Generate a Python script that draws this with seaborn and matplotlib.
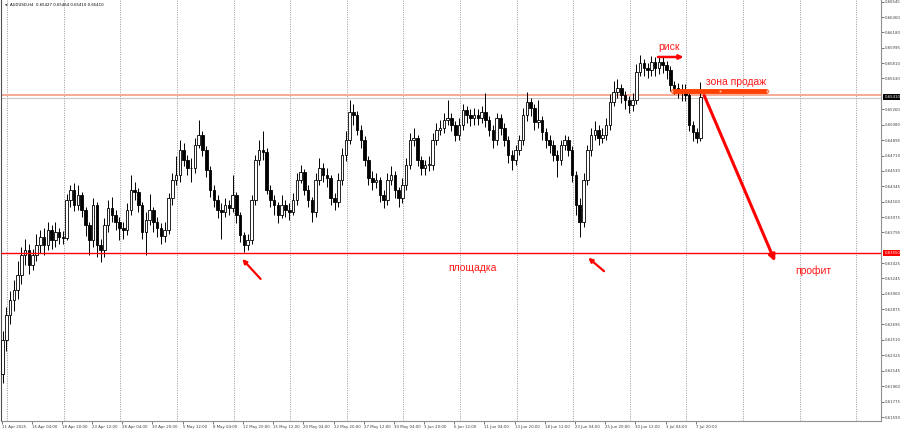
import numpy as np
import pandas as pd
import matplotlib
matplotlib.use("Agg")
import matplotlib.pyplot as plt
import matplotlib.transforms as mtransforms
import seaborn as sns

# AUDUSD H4 chart, candles (one candle = two H4 bars)
first_open = 0.6210
closes = [0.6251, 0.6281, 0.6299, 0.6311, 0.6329, 0.6352, 0.6358, 0.6341, 0.6352, 0.6364,
          0.6374, 0.6364, 0.6382, 0.6370, 0.6380, 0.6374, 0.6373, 0.6418, 0.6430, 0.6412,
          0.6424, 0.6406, 0.6388, 0.6370, 0.6412, 0.6364, 0.6358, 0.6388, 0.6409, 0.6400,
          0.6392, 0.6385, 0.6382, 0.6406, 0.6430, 0.6428, 0.6412, 0.6380, 0.6394, 0.6406,
          0.6392, 0.6385, 0.6375, 0.6382, 0.6420, 0.6442, 0.6448, 0.6478, 0.6466, 0.6456,
          0.6456, 0.6484, 0.6496, 0.6478, 0.6454, 0.6430, 0.6418, 0.6406, 0.6404, 0.6412,
          0.6409, 0.6424, 0.6400, 0.6376, 0.6364, 0.6370, 0.6418, 0.6466, 0.6478, 0.6475,
          0.6430, 0.6418, 0.6412, 0.6400, 0.6412, 0.6406, 0.6404, 0.6418, 0.6442, 0.6451,
          0.6430, 0.6418, 0.6404, 0.6442, 0.6456, 0.6448, 0.6444, 0.6420, 0.6416, 0.6442,
          0.6472, 0.6490, 0.6523, 0.6519, 0.6502, 0.6490, 0.6466, 0.6444, 0.6440, 0.6442,
          0.6424, 0.6418, 0.6442, 0.6448, 0.6430, 0.6420, 0.6436, 0.6460, 0.6490, 0.6492,
          0.6466, 0.6456, 0.6460, 0.6460, 0.6490, 0.6502, 0.6504, 0.6513, 0.6516, 0.6508,
          0.6496, 0.6508, 0.6525, 0.6519, 0.6516, 0.6519, 0.6516, 0.6523, 0.6513, 0.6502,
          0.6490, 0.6516, 0.6504, 0.6490, 0.6472, 0.6466, 0.6478, 0.6490, 0.6519, 0.6535,
          0.6528, 0.6511, 0.6513, 0.6499, 0.6490, 0.6484, 0.6472, 0.6466, 0.6484, 0.6490,
          0.6478, 0.6448, 0.6412, 0.6392, 0.6442, 0.6478, 0.6496, 0.6502, 0.6492, 0.6496,
          0.6508, 0.6535, 0.6547, 0.6552, 0.6543, 0.6537, 0.6531, 0.6537, 0.6571, 0.6581,
          0.6575, 0.6573, 0.6583, 0.6575, 0.6583, 0.6579, 0.6573, 0.6555, 0.6552, 0.6549,
          0.6549, 0.6543, 0.6508, 0.6499, 0.6492, 0.6541]
highs = [0.6262, 0.6290, 0.6310, 0.6322, 0.6345, 0.6362, 0.6372, 0.6365, 0.6360, 0.6378,
         0.6382, 0.6385, 0.6392, 0.6388, 0.6392, 0.6384, 0.6381, 0.6425, 0.6436, 0.6438,
         0.6436, 0.6428, 0.6410, 0.6392, 0.6420, 0.6416, 0.6372, 0.6396, 0.6418, 0.6422,
         0.6406, 0.6398, 0.6392, 0.6414, 0.6448, 0.6440, 0.6432, 0.6415, 0.6404, 0.6425,
         0.6410, 0.6398, 0.6390, 0.6392, 0.6426, 0.6450, 0.6470, 0.6490, 0.6486, 0.6472,
         0.6468, 0.6492, 0.6514, 0.6500, 0.6482, 0.6458, 0.6436, 0.6424, 0.6414, 0.6420,
         0.6418, 0.6448, 0.6428, 0.6404, 0.6380, 0.6378, 0.6424, 0.6472, 0.6490, 0.6500,
         0.6480, 0.6436, 0.6424, 0.6416, 0.6424, 0.6418, 0.6414, 0.6426, 0.6450, 0.6460,
         0.6455, 0.6436, 0.6422, 0.6450, 0.6468, 0.6462, 0.6456, 0.6448, 0.6426, 0.6450,
         0.6480, 0.6500, 0.6537, 0.6532, 0.6524, 0.6508, 0.6494, 0.6470, 0.6452, 0.6450,
         0.6446, 0.6430, 0.6450, 0.6458, 0.6452, 0.6434, 0.6444, 0.6468, 0.6498, 0.6504,
         0.6496, 0.6470, 0.6466, 0.6470, 0.6498, 0.6510, 0.6514, 0.6522, 0.6537, 0.6522,
         0.6512, 0.6516, 0.6532, 0.6530, 0.6526, 0.6528, 0.6526, 0.6530, 0.6546, 0.6518,
         0.6508, 0.6522, 0.6520, 0.6510, 0.6494, 0.6478, 0.6484, 0.6496, 0.6528, 0.6547,
         0.6540, 0.6532, 0.6537, 0.6518, 0.6504, 0.6496, 0.6490, 0.6478, 0.6490, 0.6496,
         0.6494, 0.6482, 0.6452, 0.6420, 0.6450, 0.6484, 0.6504, 0.6512, 0.6508, 0.6504,
         0.6516, 0.6544, 0.6560, 0.6562, 0.6556, 0.6548, 0.6542, 0.6546, 0.6580, 0.6591,
         0.6586, 0.6582, 0.6590, 0.6588, 0.6589, 0.6588, 0.6584, 0.6578, 0.6560, 0.6558,
         0.6556, 0.6556, 0.6548, 0.6512, 0.6504, 0.6559]
lows = [0.6200, 0.6238, 0.6270, 0.6285, 0.6300, 0.6318, 0.6340, 0.6330, 0.6334, 0.6345,
        0.6355, 0.6352, 0.6358, 0.6360, 0.6362, 0.6366, 0.6366, 0.6370, 0.6410, 0.6405,
        0.6406, 0.6398, 0.6375, 0.6352, 0.6362, 0.6350, 0.6344, 0.6350, 0.6380, 0.6392,
        0.6382, 0.6370, 0.6372, 0.6376, 0.6400, 0.6418, 0.6404, 0.6372, 0.6352, 0.6388,
        0.6380, 0.6374, 0.6365, 0.6368, 0.6378, 0.6412, 0.6436, 0.6440, 0.6458, 0.6448,
        0.6440, 0.6450, 0.6480, 0.6470, 0.6446, 0.6422, 0.6410, 0.6396, 0.6372, 0.6398,
        0.6400, 0.6404, 0.6390, 0.6368, 0.6356, 0.6358, 0.6366, 0.6412, 0.6460, 0.6466,
        0.6425, 0.6410, 0.6400, 0.6390, 0.6396, 0.6398, 0.6394, 0.6400, 0.6412, 0.6438,
        0.6424, 0.6410, 0.6392, 0.6398, 0.6436, 0.6440, 0.6434, 0.6412, 0.6406, 0.6410,
        0.6436, 0.6465, 0.6485, 0.6508, 0.6495, 0.6480, 0.6458, 0.6436, 0.6430, 0.6432,
        0.6416, 0.6408, 0.6412, 0.6436, 0.6420, 0.6410, 0.6414, 0.6430, 0.6455, 0.6482,
        0.6458, 0.6448, 0.6448, 0.6452, 0.6454, 0.6484, 0.6495, 0.6498, 0.6508, 0.6500,
        0.6488, 0.6490, 0.6502, 0.6510, 0.6506, 0.6508, 0.6508, 0.6510, 0.6505, 0.6494,
        0.6480, 0.6484, 0.6496, 0.6482, 0.6462, 0.6454, 0.6460, 0.6472, 0.6484, 0.6512,
        0.6518, 0.6502, 0.6504, 0.6490, 0.6480, 0.6474, 0.6464, 0.6445, 0.6460, 0.6478,
        0.6470, 0.6440, 0.6400, 0.6374, 0.6386, 0.6436, 0.6470, 0.6490, 0.6484, 0.6486,
        0.6490, 0.6502, 0.6530, 0.6540, 0.6534, 0.6526, 0.6522, 0.6524, 0.6532, 0.6566,
        0.6566, 0.6564, 0.6566, 0.6566, 0.6568, 0.6570, 0.6562, 0.6548, 0.6545, 0.6540,
        0.6536, 0.6536, 0.6500, 0.6488, 0.6486, 0.6488]

time_labels = ["11 Apr 2025", "16 Apr 04:00", "18 Apr 20:00", "23 Apr 12:00", "28 Apr 04:00",
               "30 Apr 20:00", "5 May 12:00", "8 May 04:00", "12 May 20:00", "15 May 12:00",
               "20 May 04:00", "22 May 20:00", "27 May 12:00", "30 May 04:00", "3 Jun 20:00",
               "6 Jun 12:00", "11 Jun 04:00", "13 Jun 20:00", "18 Jun 12:00", "23 Jun 04:00",
               "25 Jun 20:00", "30 Jun 12:00", "3 Jul 04:00", "7 Jul 20:00"]
price_ticks = [0.66545, 0.66360, 0.66180, 0.65995, 0.65810, 0.65630, 0.65260, 0.65080,
               0.64895, 0.64710, 0.64530, 0.64345, 0.64160, 0.63975, 0.63795, 0.63425,
               0.63245, 0.63060, 0.62875, 0.62695, 0.62510, 0.62325, 0.62145, 0.61960,
               0.61775, 0.61590]

bid = 0.65410
support = 0.63550
sell_line = 0.65430
sell_zone = 0.65480

df = pd.DataFrame({'close': closes, 'high': highs, 'low': lows})
df['open'] = [first_open] + closes[:-1]
df['bar'] = np.arange(len(df)) * 2 + 0.5   # position in H4 bars
df['bull'] = df['close'] >= df['open']

sns.set_theme(style="white")
plt.rcParams['font.family'] = ['DejaVu Sans']

fig = plt.figure(figsize=(9, 4.34), dpi=100)
ax = fig.add_axes([1 / 900, 13 / 434, 880 / 900, 421 / 434])

# weekly dotted grid (monday 00:00)
for g in np.arange(3, 470, 30):
    ax.axvline(g, color='#8c8c8c', lw=0.6, ls=(0, (1.2, 1.6)), zorder=0)

# candles
ax.vlines(df['bar'], df['low'], df['high'], color='black', lw=0.7, zorder=2)
body_low = df[['open', 'close']].min(axis=1)
body_h = (df['close'] - df['open']).abs().clip(lower=0.00006)
bull = df['bull']
ax.bar(df.loc[bull, 'bar'], body_h[bull], bottom=body_low[bull], width=1.35,
       color='white', edgecolor='black', linewidth=0.6, zorder=3)
ax.bar(df.loc[~bull, 'bar'], body_h[~bull], bottom=body_low[~bull], width=1.35,
       color='black', edgecolor='black', linewidth=0.6, zorder=3)

# horizontal levels
ax.axhline(support, color='#ff0000', lw=1.0, zorder=4)
ax.axhline(sell_line, color='#f6a48c', lw=1.3, zorder=1)
ax.axhline(bid - 0.0001, color='#c8c8c8', lw=0.8, zorder=1)

red = '#ff1a1a'
# sell zone
ax.plot([355.5, 405.8], [sell_zone, sell_zone], color='#ff4000', lw=3.5, zorder=5,
        solid_capstyle='butt')
ax.plot([355.5, 380.6, 405.8], [sell_zone] * 3, 'o', ms=2, mfc='#ffd0c0', mec='#ff4000',
        mew=0.5, zorder=6)
ax.text(373.5, 0.65588, 'зона продаж', color=red, fontsize=7.5, va='center', ha='left',
        family='Liberation Sans')
# risk
ax.text(354, 0.66005, 'риск', color=red, fontsize=7.5, va='center', ha='center',
        family='Liberation Sans')
ax.annotate('', xy=(363, 0.65886), xytext=(346.5, 0.65886),
            arrowprops=dict(arrowstyle='-|>', color='#ff0000', lw=1.8, mutation_scale=6))
# profit arrow
ax.annotate('', xy=(410.6, 0.63416), xytext=(371.9, 0.65457),
            arrowprops=dict(arrowstyle='-|>', color='#ff0000', lw=2.2, mutation_scale=9))
ax.text(420.7, 0.63333, 'профит', color=red, fontsize=7.5, va='center', ha='left',
        family='Liberation Sans')
ax.text(236.8, 0.63369, 'площадка', color=red, fontsize=7.5, va='center', ha='left',
        family='Liberation Sans')
# small arrows pointing at the lows
ax.annotate('', xy=(126.6, 0.63500), xytext=(138.3, 0.63214),
            arrowprops=dict(arrowstyle='-|>', color='#ff0000', lw=1.6, mutation_scale=6))
ax.annotate('', xy=(309.9, 0.63512), xytext=(320.5, 0.63309),
            arrowprops=dict(arrowstyle='-|>', color='#ff0000', lw=1.6, mutation_scale=6))

# axes
ax.set_xlim(-0.3, 466.2)
ax.set_ylim(0.61543, 0.66566)
ax.set_xticks(np.arange(len(time_labels)) * 16)
ax.set_xticklabels(time_labels, ha='left', fontsize=2.8)
ax.yaxis.tick_right()
ax.set_yticks(price_ticks)
ax.set_yticklabels([f'{p:.5f}' for p in price_ticks], fontsize=2.8)
ax.tick_params(axis='both', length=2, width=0.5, pad=1, colors='#404040',
               bottom=True, right=True, left=False, top=False)
ax.spines['top'].set_visible(False)
ax.spines['left'].set_color('#505050')
ax.spines['right'].set_color('#909090')
ax.spines['bottom'].set_color('#909090')
for side in ['left', 'right', 'bottom']:
    ax.spines[side].set_linewidth(0.8)

# price boxes on the right scale
trans = mtransforms.blended_transform_factory(ax.transAxes, ax.transData)
ax.text(1.004, bid, f'{bid:.5f}', transform=trans, fontsize=2.8, color='white', va='center',
        ha='left', bbox=dict(facecolor='black', edgecolor='none', pad=0.8), clip_on=False)
ax.text(1.004, support, f'{support:.5f}', transform=trans, fontsize=2.8, color='white',
        va='center', ha='left', bbox=dict(facecolor='#ff0000', edgecolor='none', pad=0.8),
        clip_on=False)

# header
ax.text(0.004, 0.992, '▼', transform=ax.transAxes, fontsize=2.5, color='#404040',
        va='top', ha='left')
ax.text(0.010, 0.992, 'AUDUSD,H4  0.65427 0.65464 0.65410 0.65410', transform=ax.transAxes,
        fontsize=2.8, color='black', va='top', ha='left')

fig.savefig('out.png', dpi=100)
